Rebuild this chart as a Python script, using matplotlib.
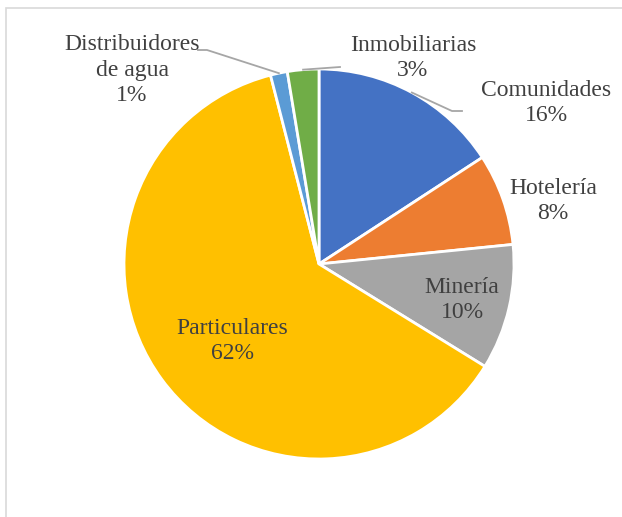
import numpy as np
import matplotlib
matplotlib.use("Agg")
import matplotlib.pyplot as plt
from matplotlib.patches import Rectangle

# datos del gráfico (sentido horario desde arriba)
categorias = ["Comunidades", "Hotelería", "Minería", "Particulares",
              "Distribuidores\nde agua", "Inmobiliarias"]
valores = [15.8, 7.6, 10.4, 62.2, 1.4, 2.6]
colores = ["#4472C4", "#ED7D31", "#A5A5A5", "#FFC000", "#5B9BD5", "#70AD47"]

W, H = 622, 517
CX, CY, R = 319, 264, 195          # centro y radio del pastel en píxeles

def px(x, y):
    # píxel -> coordenadas de datos (radio = 1)
    return (x - CX) / R, (CY - y) / R

fig = plt.figure(figsize=(W / 100, H / 100), dpi=100)
ax = fig.add_axes([0, 0, 1, 1])

# marco gris claro
fig.patches.append(Rectangle((6 / W, -0.1), 1.2, (H - 8) / H + 0.1,
                             transform=fig.transFigure, fill=False,
                             edgecolor="#D9D9D9", linewidth=1.2))

wedges, _ = ax.pie(valores, colors=colores, startangle=90, counterclock=False,
                   radius=1.0, center=(0, 0),
                   wedgeprops=dict(edgecolor="white", linewidth=2))
ax.set_aspect("auto")
ax.set_xlim(-CX / R, (W - CX) / R)
ax.set_ylim((CY - H) / R, CY / R)
ax.axis("off")

# posiciones de etiquetas (centro del texto, en píxeles)
pos_etiq = [(546, 103), (553, 201), (462, 300), (232, 341), (132, 70), (413, 58)]
txt_color = "#404040"
for cat, v, (lx, ly) in zip(categorias, valores, pos_etiq):
    x, y = px(lx, ly)
    ax.text(x, y, f"{cat}\n{round(v):d}%", ha="center", va="center",
            fontsize=17, family="Liberation Serif", color=txt_color,
            linespacing=1.26)

# líneas guía
def punto_borde(w):
    ang = np.deg2rad((w.theta1 + w.theta2) / 2)
    return np.cos(ang), np.sin(ang)

guias = {0: [(452, 111), (462, 111)],
         4: [(207, 50), (198, 50)],
         5: [(340, 67)]}
for i, pts in guias.items():
    x0, y0 = punto_borde(wedges[i])
    xs = [x0] + [px(a, b)[0] for a, b in pts]
    ys = [y0] + [px(a, b)[1] for a, b in pts]
    ax.plot(xs, ys, color="#A6A6A6", linewidth=1.3)

fig.savefig("out.png", dpi=100)
